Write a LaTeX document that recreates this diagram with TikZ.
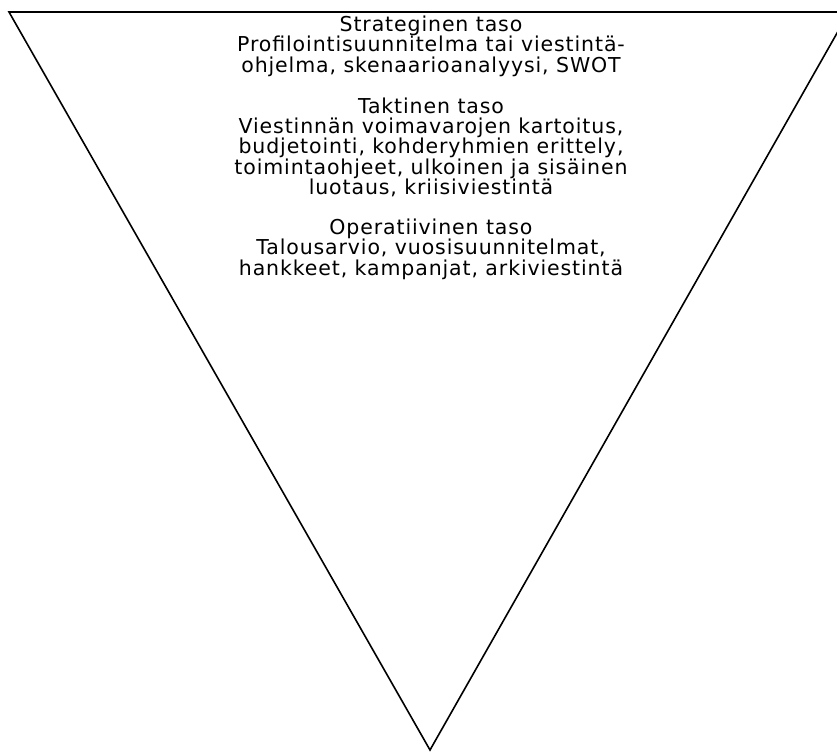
\documentclass[tikz,border=0pt]{standalone}
\usepackage{fontspec}
\setmainfont{DejaVu Sans}[LetterSpace=4.3]
\usetikzlibrary{positioning}
\newcommand\levelfont{\fontsize{20.5}{20.4}\selectfont\lineskiplimit-30pt\lineskip0pt\relax}
\tikzset{font=\levelfont}
\tikzset{level/.style={align=center,inner sep=0pt,anchor=north}}

\begin{document}
\begin{tikzpicture}[x=1pt,y=-1pt]
  \useasboundingbox (0,0) rectangle (837,753);
  \clip (0,0) rectangle (837,753);
  \draw[line width=1.6pt,line join=miter] (9,12) -- (849,12) -- (430,750) -- cycle;
  \node[level] (strat) at (431,15.7) {Strateginen taso\\Profilointisuunnitelma tai viestintä-\\ohjelma, skenaarioanalyysi, SWOT};
  \node[level,below=20.5pt of strat] (takt) {Taktinen taso\\Viestinnän voimavarojen kartoitus,\\budjetointi, kohderyhmien erittely,\\toimintaohjeet, ulkoinen ja sisäinen\\luotaus, kriisiviestintä};
  \node[level,below=21.5pt of takt] (oper) {Operatiivinen taso\\Talousarvio, vuosisuunnitelmat,\\hankkeet, kampanjat, arkiviestintä};
\end{tikzpicture}
\end{document}
